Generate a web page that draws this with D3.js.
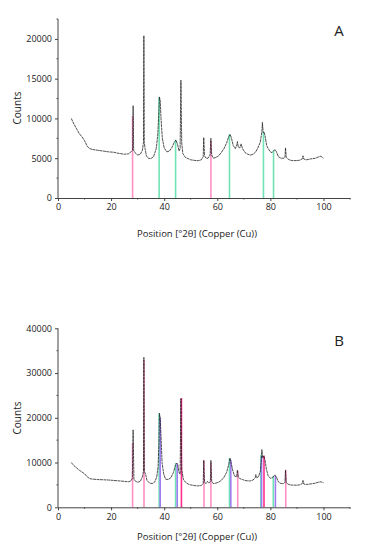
<!DOCTYPE html>
<html>
<head>
<meta charset="utf-8">
<script src="https://cdn.jsdelivr.net/npm/d3@7"></script>
<style>
  body { margin:0; background:#fff; }
  text { font-family: "Open Sans", "DejaVu Sans", sans-serif; fill:#222; }
</style>
</head>
<body>
<div id="chart"></div>
<script>
// measured pattern, panel A  [2theta, counts]
var patternA = [
  [5,10000],[6,9300],[7,8700],[8,8100],[9,7700],[10,7200],[11,6500],[12,6200],[13,6100],[15,6000],
  [17,5900],[19,5800],[21,5750],[23,5600],[25,5500],[26.5,5550],[27.5,5800],[28.1,6000],[28.3,11600],[28.5,6000],
  [29,5700],[30,5400],[31,5500],[31.8,6000],[32.2,7000],[32.35,20400],[32.5,7000],[32.8,6200],[33.3,5300],[34,5000],
  [35,4950],[36,5200],[37,6200],[37.6,8000],[38.0,11000],[38.2,12700],[38.5,12300],[38.8,10000],[39.3,7500],[40,6300],
  [41,5800],[42,5900],[43,6400],[43.8,7000],[44.4,7300],[45,6800],[45.6,5900],[46.0,6200],[46.3,14800],[46.6,7000],
  [47,5600],[48,5100],[49,4950],[50,4800],[51,4750],[52,4700],[53,4700],[54,4800],[54.7,5200],[54.9,7600],
  [55.2,5300],[55.8,5000],[56.5,5000],[57.3,5400],[57.6,7500],[57.9,5400],[58.5,5000],[59.5,5100],[60.5,5300],[61.5,5700],
  [62.5,6200],[63.5,6900],[64.3,7700],[64.8,8000],[65.3,7600],[66,6600],[66.8,6200],[67.4,6700],[67.6,7100],[67.9,6400],
  [68.5,6300],[69,6800],[69.5,6200],[70.5,5700],[71.5,5500],[72.5,5400],[73.5,5500],[74.5,5800],[75.3,6300],[76.2,7000],
  [76.8,8300],[77.0,9500],[77.3,8200],[77.6,8300],[78,7800],[78.6,6600],[79.2,6200],[80,5800],[80.6,5700],[81.2,5900],
  [81.7,6100],[82.3,5800],[83,5200],[84,5000],[85,5000],[85.5,5100],[85.7,6300],[86,5100],[86.6,4900],[87.5,4750],
  [88.5,4700],[90,4700],[91,4750],[92,4900],[92.3,5300],[92.6,4900],[93.5,4800],[95,4900],[96,4950],[97,5000],
  [98,5150],[99,5250],[100,5000]
];
// measured pattern, panel B
var patternB = [
  [5,10000],[6,9300],[7,8800],[8,8300],[9,7900],[10,7500],[11,6800],[12,6400],[13,6300],[15,6200],
  [17,6150],[19,6100],[21,6000],[23,5900],[25,5800],[26.5,5700],[27.5,5900],[28.0,6500],[28.3,17300],[28.6,6300],
  [29.2,5800],[30,5600],[31,5800],[31.8,6800],[32.2,8000],[32.35,33500],[32.55,8000],[33,7400],[33.5,6000],[34.5,5400],
  [35.5,5300],[36.5,5700],[37.2,6800],[37.7,9000],[38.0,14000],[38.2,21000],[38.5,20000],[38.8,16000],[39.2,10000],[39.8,7500],
  [40.5,6300],[41.5,6200],[42.5,6600],[43.5,7800],[44.2,9300],[44.6,9900],[45.1,9600],[45.6,7800],[46.0,7400],[46.3,24300],
  [46.6,8500],[47.2,6300],[48,5600],[49,5200],[50,5000],[51,4900],[52,4800],[53,4800],[54,4850],[54.7,5300],
  [54.9,10500],[55.2,5600],[55.8,5300],[56.3,5800],[56.8,5400],[57.4,5800],[57.6,10500],[57.9,5800],[58.5,5300],[59.5,5400],
  [60.5,5600],[61.5,6000],[62.5,6700],[63.5,7800],[64.3,9500],[64.8,11000],[65.2,10000],[65.8,8300],[66.5,7000],[67.3,6800],
  [67.6,8300],[67.9,6800],[68.5,6400],[69.5,6200],[70.5,6000],[71.5,5900],[72.5,5900],[73.5,6100],[74.3,6600],[74.5,7300],
  [74.8,6600],[75.5,6800],[76.2,8000],[76.6,10500],[76.8,12900],[77.1,11000],[77.6,11500],[78,10500],[78.5,8500],[79.2,7000],
  [80,6500],[80.8,6600],[81.4,7100],[81.8,7200],[82.3,6700],[83,5700],[84,5300],[85,5300],[85.5,5600],[85.7,8300],
  [86,5500],[86.6,5200],[87.5,5000],[88.5,4950],[90,4950],[91,5000],[92,5300],[92.3,6000],[92.6,5200],[93.5,5100],
  [95,5200],[96,5300],[97,5400],[98,5600],[99,5700],[100,5500]
];

// reference sticks [2theta, counts]
var pinkA  = [[28.1,10300],[57.6,7200]];
var greenA = [[38.1,12700],[44.3,7300],[64.6,8000],[77.4,8300],[81.2,6000]];

var pinkB    = [[28.1,14400],[32.4,33000],[55.0,10500],[57.6,10000],[67.7,8200],[85.8,8400]];
var magentaB = [[46.5,24400],[77.6,11500]];
var greenB   = [[38.1,21000],[44.3,9800],[64.6,11000],[76.4,11700],[81.1,7000]];
var purpleB  = [[38.5,20000],[44.9,9800],[65.1,10500],[76.7,11500],[81.9,7000]];

var xTicks = [0,20,40,60,80,100];
var yTicksA = [0,5000,10000,15000,20000];
var yTicksB = [0,10000,20000,30000,40000];

var W = 388, H = 557;
var svg = d3.select('#chart').append('svg').attr('width', W).attr('height', H);

function panel(opt) {
    var x = d3.scaleLinear().domain([0,110]).range([58,350]);
    var y = d3.scaleLinear().domain([0,opt.ymax]).range([opt.y0,opt.y1]);
    var g = svg.append('g');

    // sticks
    opt.sticks.forEach(function (s) {
        g.selectAll(null).data(s.data).enter().append('line')
            .attr('x1', function (d) { return x(d[0]); })
            .attr('x2', function (d) { return x(d[0]); })
            .attr('y1', y(0))
            .attr('y2', function (d) { return y(d[1]); })
            .attr('stroke', s.color).attr('stroke-width', 1.6);
    });

    // pattern
    var line = d3.line().x(function (d) { return x(d[0]); }).y(function (d) { return y(d[1]); });
    g.append('path').datum(opt.pattern).attr('d', line)
        .attr('fill','none').attr('stroke','#1a1a1a').attr('stroke-width',0.85)
        .attr('stroke-dasharray','3,0.5').attr('opacity',0.9);

    // axes
    var xa = g.append('g').attr('transform','translate(0,' + y(0) + ')')
        .call(d3.axisBottom(x).tickValues(xTicks).tickSize(3).tickSizeOuter(0).tickPadding(3));
    xa.append('g').selectAll('line').data([10,30,50,70,90,110]).enter().append('line')
        .attr('x1', function (d) { return x(d); }).attr('x2', function (d) { return x(d); })
        .attr('y1', 0).attr('y2', 1.5).attr('stroke','#444');
    var ya = g.append('g').attr('transform','translate(58,0)')
        .call(d3.axisLeft(y).tickValues(opt.yTicks).tickFormat(d3.format('d'))
            .tickSize(3).tickSizeOuter(0).tickPadding(3));
    ya.append('g').selectAll('line').data(opt.yMinor).enter().append('line')
        .attr('x1', 0).attr('x2', -1.5)
        .attr('y1', function (d) { return y(d); }).attr('y2', function (d) { return y(d); })
        .attr('stroke','#444');
    [xa, ya].forEach(function (a) {
        a.select('.domain').attr('stroke','#444');
        a.selectAll('.tick line').attr('stroke','#444');
        a.selectAll('text').attr('font-size', 9).attr('fill','#222')
            .attr('font-family','"Open Sans", sans-serif');
    });
    ya.selectAll('.domain').attr('d', 'M0,' + y(0) + 'V' + y(opt.ymax));

    g.append('text').attr('x', 197).attr('y', opt.titleY).attr('text-anchor','middle')
        .attr('font-size', 9.5).text('Position [°2θ] (Copper (Cu))');
    g.append('text').attr('transform','translate(21,' + opt.countsY + ') rotate(-90)')
        .attr('text-anchor','middle').attr('font-size', 10).text('Counts');
    g.append('text').attr('x', 339).attr('y', opt.labelY).attr('text-anchor','middle')
        .attr('font-size', 15).text(opt.label);
}

panel({
    pattern: patternA, ymax: 22500, y0: 198, y1: 19,
    yTicks: yTicksA, yMinor: [2500,7500,12500,17500,22500],
    sticks: [{data: pinkA, color:'#ff8fc4'}, {data: greenA, color:'#6fe3b6'}],
    titleY: 237, countsY: 108, labelY: 36, label: 'A'
});
panel({
    pattern: patternB, ymax: 40000, y0: 507.3, y1: 328.3,
    yTicks: yTicksB, yMinor: [5000,15000,25000,35000],
    sticks: [{data: greenB, color:'#6fe3b6'}, {data: purpleB, color:'#a07cf2'},
             {data: pinkB, color:'#ff8fc4'}, {data: magentaB, color:'#ff2e8c'}],
    titleY: 540, countsY: 418, labelY: 346, label: 'B'
});
</script>
</body>
</html>
